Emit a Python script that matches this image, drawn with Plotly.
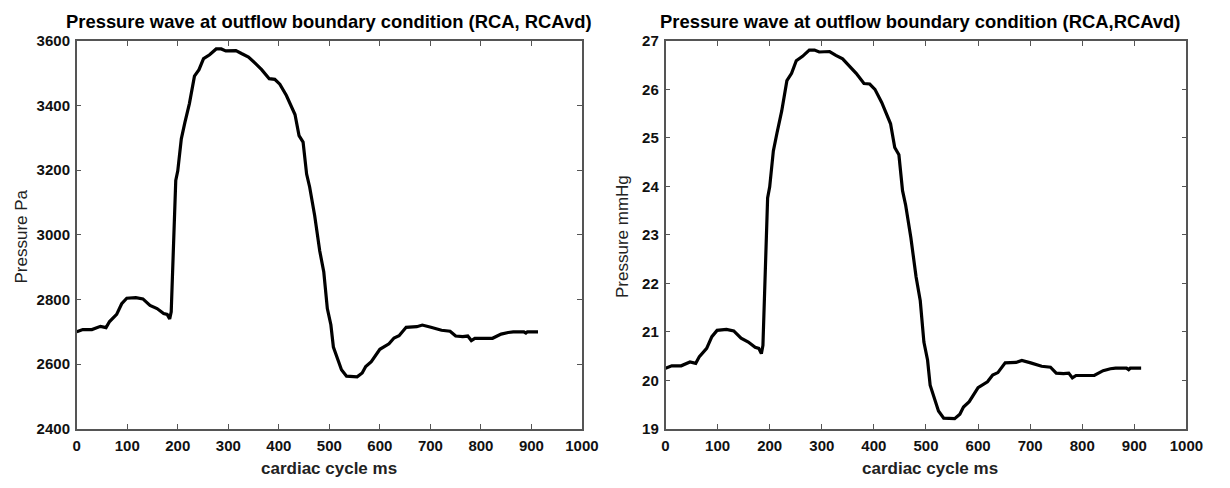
import plotly.graph_objects as go

# time in ms
t_ms = [0, 12, 30, 37, 47, 58, 65, 79, 89, 99, 117, 131, 145, 159, 172, 179, 184, 187, 190, 192,
        196, 200, 207, 214, 223, 233, 242, 251, 263, 276, 286, 295, 315, 327, 340, 353, 366, 381,
        392, 402, 415, 432, 440, 448, 455, 461, 471, 481, 489, 496, 503, 508, 517, 524, 534, 555,
        565, 572, 583, 593, 600, 618, 628, 638, 652, 673, 684, 701, 722, 739, 750, 764, 774, 781,
        788, 823, 840, 854, 864, 885, 889, 892, 913]

# pressure in Pa (left panel)
p_pa = [2700, 2707, 2707, 2712, 2717, 2713, 2732, 2754, 2787, 2804, 2806, 2802, 2782, 2772, 2757,
        2754, 2740, 2762, 2890, 3040, 3168, 3198, 3297, 3347, 3406, 3491, 3511, 3545, 3557, 3575,
        3575, 3569, 3570, 3560, 3550, 3531, 3511, 3483, 3481, 3466, 3431, 3372, 3307, 3287, 3188,
        3148, 3059, 2950, 2885, 2772, 2722, 2653, 2613, 2583, 2563, 2561, 2573, 2593, 2608, 2633,
        2646, 2663, 2681, 2688, 2714, 2716, 2721, 2714, 2705, 2702, 2687, 2685, 2687, 2673, 2680,
        2680, 2693, 2698, 2700, 2700, 2696, 2700, 2700]

# pressure in mmHg (right panel)
p_mmhg = [20.25, 20.30, 20.30, 20.34, 20.38, 20.35, 20.49, 20.66, 20.90, 21.03, 21.05, 21.02, 20.87,
          20.79, 20.68, 20.66, 20.55, 20.72, 21.68, 22.80, 23.76, 23.99, 24.73, 25.10, 25.55, 26.18,
          26.33, 26.59, 26.68, 26.81, 26.81, 26.77, 26.78, 26.70, 26.63, 26.48, 26.33, 26.12, 26.11,
          26.00, 25.73, 25.29, 24.80, 24.65, 23.91, 23.61, 22.94, 22.13, 21.64, 20.79, 20.42, 19.90,
          19.60, 19.37, 19.22, 19.21, 19.30, 19.45, 19.56, 19.75, 19.85, 19.97, 20.11, 20.16, 20.36,
          20.37, 20.41, 20.36, 20.29, 20.27, 20.15, 20.14, 20.15, 20.05, 20.10, 20.10, 20.20, 20.24,
          20.25, 20.25, 20.22, 20.25, 20.25]

x_ticks = [0, 100, 200, 300, 400, 500, 600, 700, 800, 900, 1000]
y_ticks_pa = [2400, 2600, 2800, 3000, 3200, 3400, 3600]
y_ticks_mmhg = [19, 20, 21, 22, 23, 24, 25, 26, 27]

titles = ["Pressure wave at outflow boundary condition (RCA, RCAvd)",
          "Pressure wave at outflow boundary condition (RCA,RCAvd)"]
x_title = "cardiac cycle ms"
y_titles = ["Pressure Pa", "Pressure mmHg"]

W, H = 1230, 488
left_dom = [74 / W, 588 / W]
right_dom = [673 / W, 1203 / W]
y_dom = [1 - 435 / H, 1 - 33 / H]

fig = go.Figure()
fig.add_trace(go.Scatter(x=t_ms, y=p_pa, mode="lines", line=dict(color="black", width=3.2),
                         xaxis="x", yaxis="y", showlegend=False))
fig.add_trace(go.Scatter(x=t_ms, y=p_mmhg, mode="lines", line=dict(color="black", width=3.2),
                         xaxis="x2", yaxis="y2", showlegend=False))

tickfont = dict(family="Liberation Sans, Arial", size=15, color="#111", weight="bold")
axis_common = dict(showgrid=False, zeroline=False, showline=True, linecolor="#555", linewidth=1.5,
                   mirror="ticks", ticks="inside", ticklen=5, tickcolor="#555", tickwidth=1,
                   tickfont=tickfont, fixedrange=True)

fig.update_layout(
    width=W, height=H, margin=dict(l=0, r=0, t=0, b=0),
    paper_bgcolor="white", plot_bgcolor="white",
    xaxis=dict(domain=left_dom, range=[0, 1000], tickvals=x_ticks, anchor="y",
               ticklabelstandoff=2, **axis_common),
    yaxis=dict(domain=y_dom, range=[2400, 3600], tickvals=y_ticks_pa, anchor="x",
               ticklabelstandoff=2, **axis_common),
    xaxis2=dict(domain=right_dom, range=[0, 1000], tickvals=x_ticks, anchor="y2",
                ticklabelstandoff=2, **axis_common),
    yaxis2=dict(domain=y_dom, range=[19, 27], tickvals=y_ticks_mmhg, anchor="x2",
                ticklabelstandoff=2, **axis_common),
)

title_sizes = [18.4, 18.4]
label_font = dict(family="Liberation Sans, Arial", size=17, color="#222", weight="bold")
ylabel_font = dict(family="Liberation Sans, Arial", size=17, color="#222")

centers = [(left_dom[0] + left_dom[1]) / 2, (right_dom[0] + right_dom[1]) / 2 + 4 / W]
title_x = [331 / W, 932 / W]
ylab_x = [18 / W, 630 / W]
for i in range(2):
    fig.add_annotation(text=titles[i], x=title_x[i], y=1 - 13 / H, xref="paper", yref="paper",
                       showarrow=False,
                       font=dict(family="Liberation Sans, Arial", size=title_sizes[i],
                                 color="black", weight="bold"),
                       xanchor="center", yanchor="middle")
    fig.add_annotation(text=x_title, x=centers[i], y=1 - 476 / H, xref="paper", yref="paper",
                       showarrow=False, font=label_font, xanchor="center", yanchor="middle")
    fig.add_annotation(text=y_titles[i], x=ylab_x[i], y=1 - 236 / H, xref="paper", yref="paper",
                       showarrow=False, font=ylabel_font, textangle=-90,
                       xanchor="center", yanchor="middle")

fig.write_html("out.html")
